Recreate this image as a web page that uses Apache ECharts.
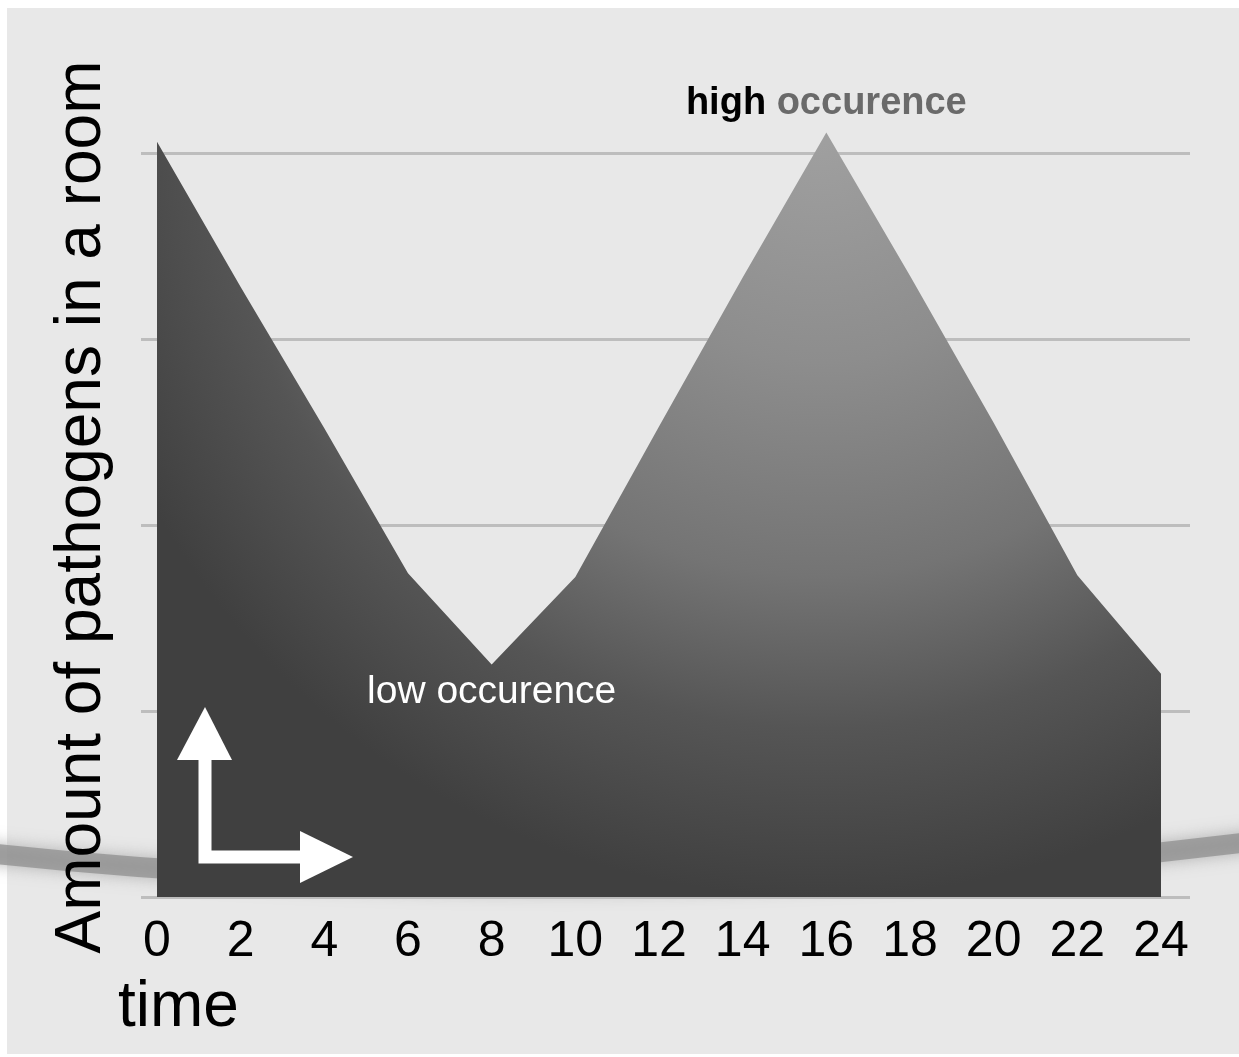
<!DOCTYPE html>
<html>
<head>
<meta charset="utf-8">
<style>
html,body{margin:0;padding:0;background:#fff;}
#chart{width:1239px;height:1057px;}
</style>
<script src="https://cdn.jsdelivr.net/npm/echarts@6/dist/echarts.min.js"></script>
</head>
<body>
<div id="chart"></div>
<script>
const hours = ['0','2','4','6','8','10','12','14','16','18','20','22','24'];
const pathogenAmount = [4.06, 3.28, 2.52, 1.74, 1.25, 1.72, 2.53, 3.33, 4.11, 3.34, 2.55, 1.73, 1.2];
const gridTicks = [0, 1, 2, 3, 4];
const yAxisTitle = 'Amount of pathogens in a room';
const xAxisTitle = 'time';
const lowLabel = 'low occurence';
const highLabelBold = 'high';
const highLabelRest = 'occurence';
const lowIndex = 4;
const highIndex = 8;

const FONT = '"Liberation Sans", Helvetica, Arial, sans-serif';
const chart = echarts.init(document.getElementById('chart'), null, {renderer: 'canvas'});

const seriesData = pathogenAmount.map((v, i) => {
  const item = {value: v};
  if (i === lowIndex) {
    item.label = {show: true, position: 'bottom', distance: 8, formatter: lowLabel,
      color: '#ffffff', fontSize: 39, fontFamily: FONT};
  }
  if (i === highIndex) {
    item.label = {show: true, position: 'top', distance: 10,
      formatter: '{a|' + highLabelBold + '\u00a0}{b|' + highLabelRest + '}',
      rich: {
        a: {color: '#000', fontWeight: 'bold', fontSize: 38, fontFamily: FONT},
        b: {color: '#6a6a6a', fontWeight: 'bold', fontSize: 38, fontFamily: FONT}
      }};
  }
  return item;
});

const option = {
  backgroundColor: '#ffffff',
  animation: false,
  grid: [
    {left: 141, right: 49, top: 153, bottom: 160},
    {left: 157, right: 78, top: 153, bottom: 160}
  ],
  xAxis: [
    {gridIndex: 0, type: 'category', data: hours, show: false},
    {gridIndex: 1, type: 'category', data: hours, boundaryGap: false,
      axisLine: {show: false}, axisTick: {show: false},
      axisLabel: {color: '#000', fontSize: 50, fontFamily: FONT, margin: 20, interval: 0}}
  ],
  yAxis: [
    {gridIndex: 0, type: 'value', min: gridTicks[0], max: gridTicks[gridTicks.length - 1], interval: 1,
      axisLine: {show: false}, axisTick: {show: false}, axisLabel: {show: false},
      splitLine: {show: true, lineStyle: {color: '#bdbdbd', width: 3}}},
    {gridIndex: 1, type: 'value', min: gridTicks[0], max: gridTicks[gridTicks.length - 1], interval: 1,
      show: false}
  ],
  series: [{
    type: 'line',
    xAxisIndex: 1,
    yAxisIndex: 1,
    data: seriesData,
    clip: false,
    symbol: 'circle',
    symbolSize: 0.01,
    showSymbol: true,
    itemStyle: {color: 'rgba(0,0,0,0)'},
    lineStyle: {width: 0},
    z: 5,
    areaStyle: {
      opacity: 1,
      color: {
        type: 'radial', x: 0.66, y: 0.0, r: 1.0,
        colorStops: [
          {offset: 0, color: '#a0a0a0'},
          {offset: 0.3, color: '#8d8d8d'},
          {offset: 0.58, color: '#747474'},
          {offset: 0.78, color: '#555555'},
          {offset: 1, color: '#404040'}
        ]
      }
    }
  }],
  graphic: [
    {type: 'rect', z: -10, silent: true, shape: {x: 7, y: 8, width: 1239, height: 1046},
      style: {fill: '#e8e8e8'}},
    {type: 'bezierCurve', z: -5, silent: true,
      shape: {x1: -40, y1: 850, cpx1: 350, cpy1: 895, cpx2: 850, cpy2: 895, x2: 1280, y2: 838},
      style: {stroke: '#8f8f8f', lineWidth: 20, fill: null, shadowBlur: 16, shadowColor: '#a0a0a0', opacity: 0.75}},
    {type: 'text', z: 20, silent: true, x: 82, y: 507, rotation: Math.PI / 2,
      style: {text: yAxisTitle, fill: '#000', font: '64px ' + FONT, align: 'center', verticalAlign: 'middle'}},
    {type: 'text', z: 20, silent: true, x: 118, y: 1008,
      style: {text: xAxisTitle, fill: '#000', font: '64px ' + FONT, align: 'left', verticalAlign: 'middle'}},
    {type: 'polyline', z: 20, silent: true,
      shape: {points: [[205, 752], [205, 857], [305, 857]]},
      style: {stroke: '#fff', lineWidth: 13, fill: null, lineJoin: 'miter'}},
    {type: 'polygon', z: 20, silent: true,
      shape: {points: [[177, 760], [205, 707], [232, 760]]},
      style: {fill: '#fff'}},
    {type: 'polygon', z: 20, silent: true,
      shape: {points: [[300, 831], [353, 857], [300, 883]]},
      style: {fill: '#fff'}}
  ]
};
chart.setOption(option);
</script>
</body>
</html>
